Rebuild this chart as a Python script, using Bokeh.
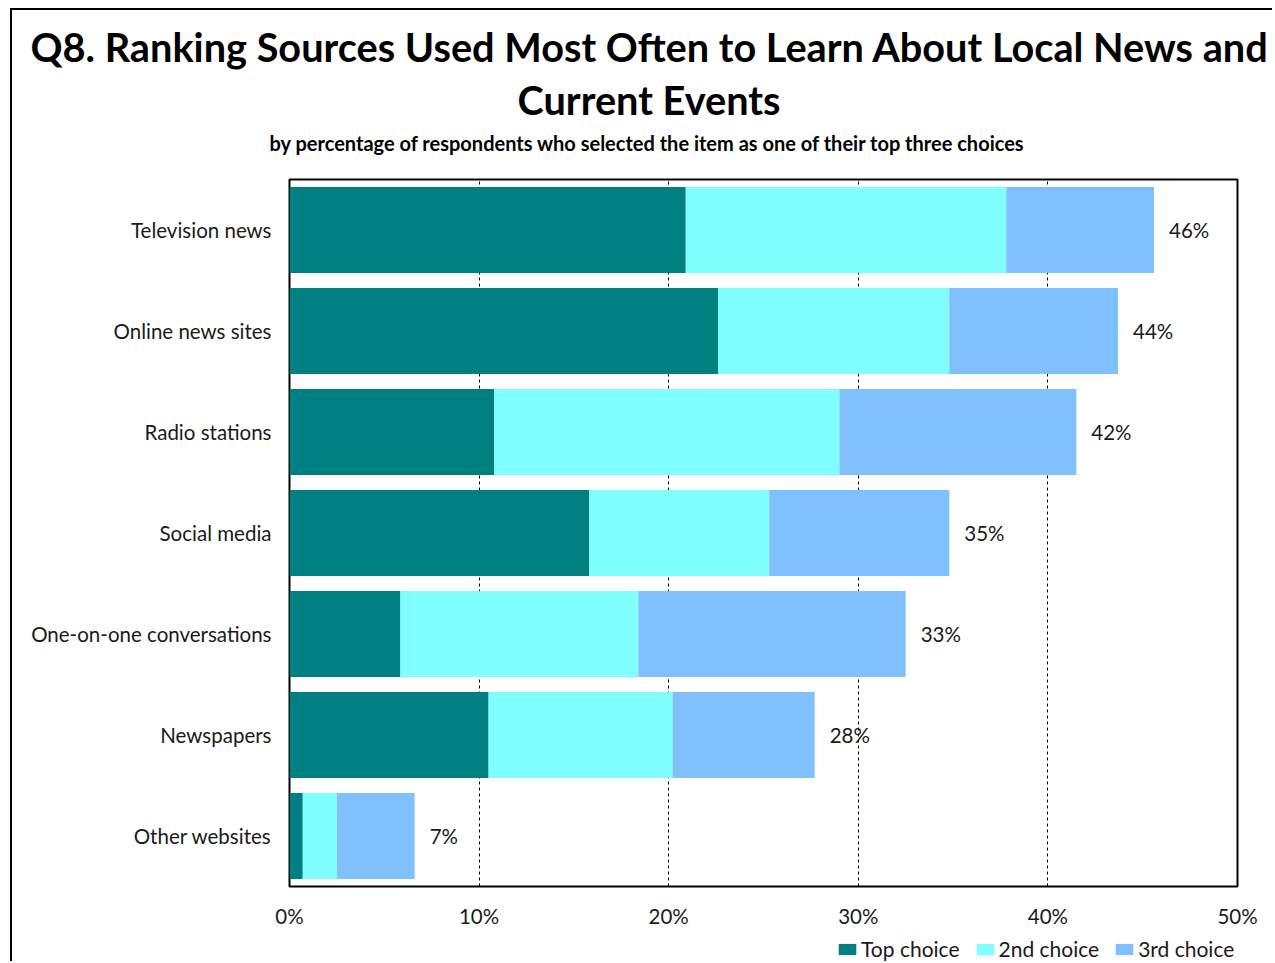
from bokeh.plotting import figure
from bokeh.layouts import column
from bokeh.models import (Range1d, FactorRange, FixedTicker, PrintfTickFormatter,
                          Title, Legend, LegendItem, ColumnDataSource)
from bokeh.core.properties import value
from bokeh.embed import file_html
from bokeh.resources import INLINE

categories = ["Television news", "Online news sites", "Radio stations", "Social media",
              "One-on-one conversations", "Newspapers", "Other websites"]
top_choice = [20.9, 22.6, 10.8, 15.8, 5.85, 10.5, 0.7]
second_choice = [16.9, 12.2, 18.2, 9.5, 12.55, 9.7, 1.8]
third_choice = [7.8, 8.9, 12.5, 9.5, 14.1, 7.5, 4.1]
total_labels = ["46%", "44%", "42%", "35%", "33%", "28%", "7%"]
x_ticks = [0, 10, 20, 30, 40, 50]
series_names = ["Top choice", "2nd choice", "3rd choice"]
colors = ["#008080", "#80FFFF", "#80C0FF"]
title_line1 = "Q8. Ranking Sources Used Most Often to Learn About Local News and"
title_line2 = "Current Events"
subtitle = "by percentage of respondents who selected the item as one of their top three choices"

FONT = "Lato"
TXT = "#1a1a1a"

W, H = 1262, 925
p = figure(width=W, height=H, output_backend="svg", toolbar_location=None,
           y_range=FactorRange(factors=list(reversed(categories)), range_padding=0),
           x_range=Range1d(0, 50),
           min_border_left=277, min_border_right=37, min_border_top=169, min_border_bottom=49)
p.styles = {"border-left": "2px solid black", "border-top": "2px solid black",
            "margin-left": "10px", "margin-top": "8px"}

src = ColumnDataSource(dict(cat=categories, top=top_choice, second=second_choice,
                            third=third_choice, labels=total_labels,
                            total=[a + b + c for a, b, c in zip(top_choice, second_choice, third_choice)]))
keys = ["top", "second", "third"]
renderers = p.hbar_stack(keys, y="cat", height=0.85, color=colors, source=src,
                         line_color=None)

p.text(x="total", y="cat", text="labels", source=src, x_offset=15,
       text_baseline="middle", text_align="left", text_font=value(FONT),
       text_font_size="20.5px", text_color=TXT)

p.outline_line_color = "black"
p.outline_line_width = 2
p.xaxis.ticker = FixedTicker(ticks=x_ticks)
p.xaxis.formatter = PrintfTickFormatter(format="%d%%")
for ax in (p.xaxis[0], p.yaxis[0]):
    ax.axis_line_color = None
    ax.major_tick_line_color = None
    ax.minor_tick_line_color = None
    ax.major_tick_out = 0
    ax.major_tick_in = 0
    ax.minor_tick_out = 0
    ax.major_label_text_font = FONT
    ax.major_label_text_font_size = "20.5px"
    ax.major_label_text_color = TXT
p.xaxis.major_label_standoff = 17
p.yaxis.major_label_standoff = 18
p.ygrid.grid_line_color = None
p.xgrid.ticker = FixedTicker(ticks=[10, 20, 30, 40])
p.xgrid.grid_line_color = "black"
p.xgrid.grid_line_dash = "3 3"
p.xgrid.grid_line_width = 1

# Titles stacked above the frame: first added sits closest to the frame
p.add_layout(Title(text=" ", text_font_size="1px", standoff=18), "above")
p.add_layout(Title(text=subtitle, align="left", offset=-20, text_font=FONT,
                   text_font_style="bold", text_font_size="20px", text_color="black",
                   standoff=8), "above")
p.add_layout(Title(text=title_line2, align="left", offset=228, text_font=FONT,
                   text_font_style="bold", text_font_size="39.7px", text_color="black",
                   standoff=4), "above")
p.add_layout(Title(text=title_line1, align="left", offset=-259, text_font=FONT,
                   text_font_style="bold", text_font_size="39.7px", text_color="black",
                   standoff=4), "above")

# Legend strip below the chart (its frame is aligned with the main frame)
lg = figure(width=W, height=28, output_backend="svg", toolbar_location=None,
            x_axis_type=None, y_axis_type=None, x_range=Range1d(0, 1), y_range=Range1d(0, 1),
            min_border=0, min_border_left=0, min_border_right=0, min_border_top=0,
            min_border_bottom=0)
lg.styles = {"border-left": "2px solid black", "margin-left": "10px"}
lg.outline_line_color = None
lg.outline_line_alpha = 0
lg.background_fill_color = "white"
lg.border_fill_color = "white"
lg.grid.visible = False
# swatch sources for the legend, placed outside the visible range
swatches = [lg.hbar(y=[-5], left=[0], right=[1], height=0.5, color=c, line_color=None)
            for c in colors]
legend = Legend(items=[LegendItem(label=n, renderers=[r]) for n, r in zip(series_names, swatches)],
                orientation="horizontal", location=(547, 0),
                glyph_width=22, glyph_height=14, label_standoff=3, spacing=14,
                padding=0, margin=0, border_line_color=None, background_fill_alpha=0,
                label_text_font=FONT, label_text_font_size="21px", label_text_color=TXT)
lg.add_layout(legend, "center")

layout = column(p, lg, spacing=0)
open("out.html", "w").write(file_html(layout, INLINE))
